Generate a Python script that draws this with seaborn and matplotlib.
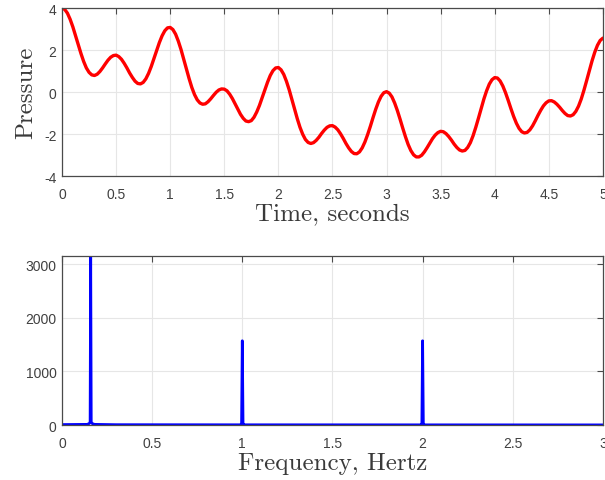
import matplotlib
matplotlib.use("Agg")
import matplotlib.pyplot as plt
import seaborn as sns

time_s = [round(0.025 * i, 3) for i in range(201)]
pressure = [
    4.00, 3.94, 3.76, 3.47, 3.11, 2.69, 2.26, 1.84, 1.46, 1.15,
    0.94, 0.82, 0.79, 0.85, 0.98, 1.15, 1.34, 1.52, 1.66, 1.74,
    1.76, 1.69, 1.56, 1.37, 1.15, 0.91, 0.70, 0.52, 0.41, 0.39,
    0.46, 0.63, 0.89, 1.22, 1.60, 1.99, 2.36, 2.68, 2.92, 3.06,
    3.08, 2.98, 2.76, 2.43, 2.03, 1.57, 1.10, 0.64, 0.22, -0.12,
    -0.37, -0.52, -0.58, -0.56, -0.46, -0.32, -0.16, -0.01, 0.10, 0.15,
    0.14, 0.06, -0.10, -0.31, -0.56, -0.82, -1.06, -1.25, -1.38, -1.41,
    -1.36, -1.20, -0.95, -0.64, -0.27, 0.11, 0.47, 0.79, 1.02, 1.15,
    1.17, 1.06, 0.84, 0.51, 0.11, -0.35, -0.82, -1.27, -1.68, -2.01,
    -2.26, -2.40, -2.45, -2.41, -2.30, -2.15, -1.97, -1.81, -1.68, -1.61,
    -1.60, -1.67, -1.80, -1.99, -2.21, -2.45, -2.66, -2.83, -2.93, -2.94,
    -2.85, -2.66, -2.38, -2.03, -1.64, -1.22, -0.82, -0.47, -0.20, -0.03,
    0.02, -0.05, -0.23, -0.52, -0.88, -1.29, -1.72, -2.13, -2.50, -2.79,
    -2.99, -3.09, -3.09, -3.01, -2.85, -2.65, -2.43, -2.22, -2.05, -1.93,
    -1.87, -1.89, -1.98, -2.12, -2.29, -2.48, -2.64, -2.76, -2.81, -2.78,
    -2.64, -2.41, -2.08, -1.68, -1.24, -0.78, -0.33, 0.06, 0.38, 0.59,
    0.69, 0.67, 0.53, 0.29, -0.03, -0.40, -0.79, -1.16, -1.48, -1.73,
    -1.89, -1.95, -1.92, -1.80, -1.61, -1.37, -1.11, -0.87, -0.66, -0.51,
    -0.42, -0.41, -0.47, -0.58, -0.72, -0.88, -1.02, -1.12, -1.14, -1.08,
    -0.92, -0.67, -0.33, 0.09, 0.55, 1.03, 1.49, 1.90, 2.23, 2.46,
    2.57,
]

# spectrum: three spikes (0.16, 1 and 2 Hz) on a flat floor
freq_hz = [0.0, 0.14, 0.152, 0.156, 0.159, 0.162, 0.166, 0.18, 0.3,
           0.99, 0.996, 1.0, 1.004, 1.01,
           1.99, 1.996, 2.0, 2.004, 2.01, 3.0]
magnitude = [8, 12, 30, 60, 3150, 60, 30, 12, 6,
             4, 20, 1570, 20, 4,
             3, 20, 1570, 20, 3, 2]

sns.set_style("whitegrid")
plt.rcParams["axes.unicode_minus"] = False
plt.rcParams["font.family"] = ["Liberation Sans", "DejaVu Sans"]

fig = plt.figure(figsize=(6.05, 4.81), dpi=100)
ax1 = fig.add_axes([0.1025, 0.632, 0.894, 0.349])
ax2 = fig.add_axes([0.1025, 0.1143, 0.894, 0.3514])

sns.lineplot(x=time_s, y=pressure, ax=ax1, color="#ff0000", linewidth=2.4,
             estimator=None, sort=False, solid_joinstyle="round")
sns.lineplot(x=freq_hz, y=magnitude, ax=ax2, color="#0000ff", linewidth=2.0,
             estimator=None, sort=False)

label_font = dict(family="cmr10", size=18, color="#3a3a3a")

ax1.set_xlim(0, 5)
ax1.set_ylim(-4, 4)
ax1.set_xticks([0, 0.5, 1, 1.5, 2, 2.5, 3, 3.5, 4, 4.5, 5])
ax1.set_xticklabels(["0", "0.5", "1", "1.5", "2", "2.5", "3", "3.5", "4", "4.5", "5"])
ax1.set_yticks([-4, -2, 0, 2, 4])
ax1.set_xlabel("Time, seconds", fontdict=label_font, labelpad=1)
ax1.set_ylabel("Pressure", fontdict=label_font, labelpad=5)

ax2.set_xlim(0, 3)
ax2.set_ylim(0, 3150)
ax2.set_xticks([0, 0.5, 1, 1.5, 2, 2.5, 3])
ax2.set_xticklabels(["0", "0.5", "1", "1.5", "2", "2.5", "3"])
ax2.set_yticks([0, 1000, 2000, 3000])
ax2.set_xlabel("Frequency, Hertz", fontdict=label_font, labelpad=1)

for ax in (ax1, ax2):
    ax.grid(True, color="#e6e6e6", linewidth=0.8)
    ax.set_axisbelow(True)
    for sp in ax.spines.values():
        sp.set_color("#4a4a4a")
        sp.set_linewidth(0.9)
    ax.tick_params(direction="in", top=True, right=True, length=4, width=0.8,
                   color="#4a4a4a", labelcolor="#404040", labelsize=10)
    ax.tick_params(axis="x", pad=8)
    ax.tick_params(axis="y", pad=4)

fig.savefig("out.png", dpi=100)
